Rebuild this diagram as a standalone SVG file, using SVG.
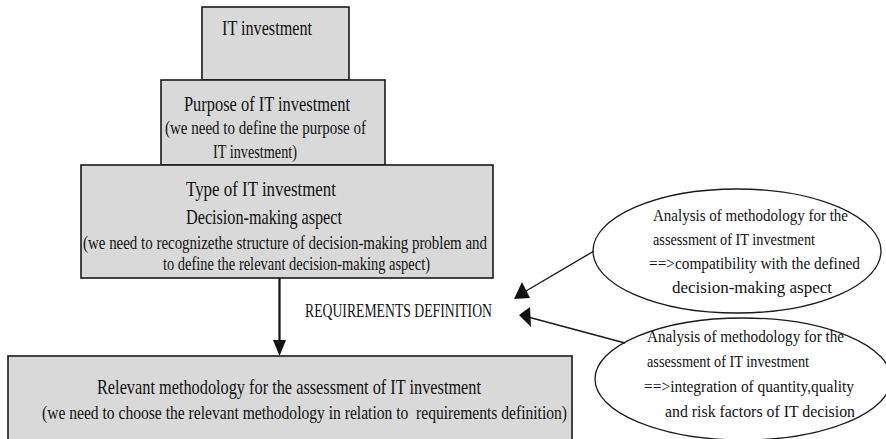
<svg xmlns="http://www.w3.org/2000/svg" width="886" height="439" viewBox="0 0 886 439">
<defs>
<style>
.box{fill:#d9d9d9;stroke:#1a1a1a;stroke-width:1.6}
.ell{fill:#ffffff;stroke:#1a1a1a;stroke-width:1.3}
text{font-family:"Liberation Serif","Times New Roman",serif;fill:#111111}
.t1{font-size:21px}
.t2{font-size:18.5px}
.t3{font-size:16.5px}
.line{stroke:#1a1a1a;stroke-width:1.4;fill:none}
.main{stroke:#111111;stroke-width:2.2;fill:none}
.head{fill:#111111;stroke:none}
</style>
</defs>
<rect x="0" y="0" width="886" height="439" fill="#ffffff"/>

<g id="it-investment">
<rect class="box" x="202" y="7" width="147" height="73"/>
<text class="t1" x="222" y="35" textLength="90" lengthAdjust="spacingAndGlyphs">IT investment</text>
</g>

<g id="purpose">
<rect class="box" x="161" y="80" width="224" height="85"/>
<text class="t1" x="184" y="111" textLength="166" lengthAdjust="spacingAndGlyphs">Purpose of IT investment</text>
<text class="t2" x="165" y="134" textLength="201" lengthAdjust="spacingAndGlyphs">(we need to define the purpose of</text>
<text class="t2" x="213" y="158" textLength="84" lengthAdjust="spacingAndGlyphs">IT investment)</text>
</g>

<g id="type">
<rect class="box" x="81" y="165" width="412" height="113"/>
<text class="t1" x="186" y="196" textLength="150" lengthAdjust="spacingAndGlyphs">Type of IT investment</text>
<text class="t1" x="186" y="224" textLength="156" lengthAdjust="spacingAndGlyphs">Decision-making aspect</text>
<text class="t2" x="83" y="249" textLength="404" lengthAdjust="spacingAndGlyphs">(we need to recognizethe structure of decision-making problem and</text>
<text class="t2" x="163" y="270" textLength="267" lengthAdjust="spacingAndGlyphs">to define the relevant decision-making aspect)</text>
</g>

<g id="methodology">
<rect class="box" x="8" y="356" width="564" height="100"/>
<text class="t1" x="97" y="394" textLength="384" lengthAdjust="spacingAndGlyphs">Relevant methodology for the assessment of IT investment</text>
<text class="t2" x="42" y="419" textLength="525" lengthAdjust="spacingAndGlyphs" xml:space="preserve">(we need to choose the relevant methodology in relation to  requirements definition)</text>
</g>

<g id="analysis-compatibility">
<ellipse class="ell" cx="737" cy="251" rx="144" ry="62"/>
<text class="t3" x="653" y="221" textLength="195" lengthAdjust="spacingAndGlyphs">Analysis of methodology for the</text>
<text class="t3" x="653" y="245" textLength="162" lengthAdjust="spacingAndGlyphs">assessment of IT investment</text>
<text class="t3" x="649" y="269" textLength="211" lengthAdjust="spacingAndGlyphs">==&gt;compatibility with the defined</text>
<text class="t3" x="672" y="293" textLength="160" lengthAdjust="spacingAndGlyphs">decision-making aspect</text>
</g>

<g id="analysis-integration">
<ellipse class="ell" cx="743" cy="379" rx="148" ry="61"/>
<text class="t3" x="647" y="342" textLength="197" lengthAdjust="spacingAndGlyphs">Analysis of methodology for the</text>
<text class="t3" x="647" y="367" textLength="162" lengthAdjust="spacingAndGlyphs">assessment of IT investment</text>
<text class="t3" x="644" y="392" textLength="210" lengthAdjust="spacingAndGlyphs">==&gt;integration of quantity,quality</text>
<text class="t3" x="665" y="417" textLength="190" lengthAdjust="spacingAndGlyphs">and risk factors of IT decision</text>
</g>

<g id="requirements-definition">
<text class="t2" x="305" y="317" textLength="187" lengthAdjust="spacingAndGlyphs">REQUIREMENTS DEFINITION</text>
</g>

<g id="connectors">
<path class="main" d="M279.5 278 V342"/>
<polygon class="head" points="273,340 286,340 279.5,356"/>
<path class="line" d="M594 251 L526 291"/>
<polygon class="head" points="522,282 514,299 530,298"/>
<path class="line" d="M625 343 L528 317"/>
<polygon class="head" points="519,315 530,307 531,327"/>
</g>
</svg>
